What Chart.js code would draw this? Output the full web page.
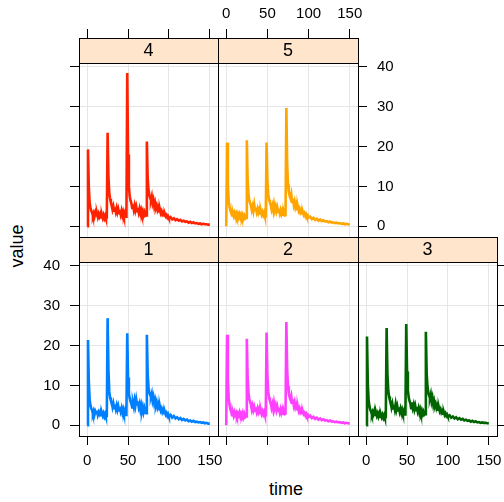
<!DOCTYPE html>
<html>
<head>
<meta charset="utf-8">
<script src="https://cdn.jsdelivr.net/npm/chart.js@4.4.0/dist/chart.umd.min.js"></script>
<style>
  body { margin: 0; background: #fff; }
  #wrap { position: relative; width: 504px; height: 502px; overflow: hidden; font-family: "Liberation Sans", Arial, sans-serif; }
  #wrap canvas { position: absolute; }
  .title { position: absolute; font-size: 18px; color: #000; white-space: nowrap; }
  #xt { left: 286px; top: 489px; transform: translate(-50%, -50%); }
  #yt { left: 17px; top: 246px; transform: translate(-50%, -50%) rotate(-90deg); }
</style>
</head>
<body>
<div id="wrap">
  <div class="title" id="xt">time</div>
  <div class="title" id="yt">value</div>
</div>
<script>
const times = [0,1,2,3,4,5,6,7,8,9,10,11,12,13,14,15,16,17,18,19,20,21,22,23,
  24,25,26,27,28,29,30,31,32,33,34,35,36,37,38,39,40,41,42,43,44,45,46,47,
  48,49,50,51,52,53,54,55,56,57,58,59,60,61,62,63,64,65,66,67,68,69,70,71,
  72,73,74,75,76,77,78,79,80,81,82,83,84,85,86,87,88,89,90,91,92,93,94,95,96,97,98,99,100,
  102,104,106,108,110,112,114,116,118,120,122,124,126,128,130,132,134,136,138,140,142,144,146,148,150];

const values1 = [0,21.4,11,6.5,5,4.2,3.8,2.9,3.6,2.7,3.5,3.0,3.7,2.6,3.3,2.8,3.4,2.5,3.1,2.4,3.0,2.2,2.8,2.1,
  2.3,26.9,14,8.5,7,6.2,5.8,4.6,5.5,4.3,5.2,4.1,5.0,3.9,4.8,3.7,4.6,3.5,4.3,3.2,4.0,3.0,3.7,2.6,
  2.6,23.1,12,8,6.8,6,5.4,4.5,5.6,4.6,6.2,5.0,6.5,5.2,6.0,4.6,5.4,4.0,5.0,3.6,4.6,3.3,4.2,3.1,
  3.0,22.7,13,9.5,8.2,7.6,7.2,8.0,6.2,7.1,5.6,6.4,5.0,5.8,4.5,5.2,4.0,4.7,3.7,4.2,3.3,3.8,3.0,3.4,2.7,3.1,2.4,2.8,2.2,
  2.6,1.9,2.3,1.7,2.0,1.5,1.8,1.3,1.6,1.2,1.4,1.0,1.2,0.9,1.1,0.8,0.9,0.7,0.8,0.6,0.7,0.5,0.6,0.4,0.4];

const values2 = [0,22.7,11.5,6.8,5.2,4.0,3.4,2.5,3.2,2.4,3.3,2.6,3.1,2.3,3.0,2.5,3.2,2.2,2.9,2.4,3.1,2.1,2.8,2.0,
  2.2,21.7,12,8.2,6.6,5.8,5.2,4.0,4.9,3.8,4.6,3.6,4.5,3.4,4.2,3.3,4.0,3.0,3.8,2.9,3.5,2.7,3.3,2.5,
  2.5,23.3,12.5,8.5,7,6.2,5.6,4.4,5.3,4.1,5.6,4.3,5.0,3.8,4.7,3.6,4.4,3.3,4.1,3.1,3.8,2.9,3.5,2.8,
  2.9,25.9,14,9.8,8.0,7.0,6.4,7.3,5.6,6.5,5.0,5.8,4.5,5.1,4.0,4.6,3.6,4.2,3.3,3.8,3.0,3.5,2.8,3.1,2.5,2.9,2.3,2.6,2.1,
  2.4,1.8,2.1,1.6,1.9,1.4,1.7,1.3,1.5,1.2,1.3,1.0,1.2,0.9,1.0,0.8,0.9,0.7,0.8,0.6,0.7,0.5,0.6,0.5,0.4];

const values3 = [0,22.3,10.5,6.2,4.8,3.9,3.5,2.7,3.4,2.8,3.6,2.6,3.2,2.4,3.0,2.2,2.9,2.1,2.7,2.0,2.6,1.9,2.5,1.8,
  2.0,24.4,13,8.8,7.2,6.3,5.7,4.5,5.4,4.2,5.1,4.0,5.3,3.9,4.8,3.7,4.5,3.4,4.2,3.2,3.9,3.0,3.6,2.7,
  2.7,25.4,13.5,8.8,7.0,6.1,5.5,4.3,5.8,4.4,5.2,4.0,4.9,3.8,4.6,3.5,4.3,3.2,4.0,3.0,3.7,2.8,3.4,2.6,
  2.8,23.5,13,9.6,8.3,7.4,6.9,7.8,6.0,6.9,5.3,6.1,4.8,5.4,4.3,4.9,3.9,4.4,3.5,4.0,3.2,3.6,2.9,3.3,2.6,3.0,2.4,2.7,2.2,
  2.5,1.9,2.2,1.7,2.0,1.5,1.8,1.4,1.6,1.2,1.4,1.1,1.2,0.9,1.1,0.8,1.0,0.7,0.8,0.6,0.7,0.6,0.6,0.5,0.5];

const values4 = [0,19.3,9.8,6.0,4.7,3.9,3.5,2.6,3.3,2.5,3.4,2.7,3.2,2.3,3.1,2.4,3.0,2.2,2.9,2.1,2.8,2.0,2.6,1.9,
  2.1,23.5,12.5,8.4,6.9,6.0,5.3,4.2,5.0,3.9,4.8,3.7,4.6,3.5,4.3,3.3,4.1,3.0,3.9,2.8,3.6,2.6,3.3,2.4,
  2.4,38.5,18,10,7.6,6.5,5.8,4.6,5.5,4.2,5.2,4.0,4.9,3.8,4.6,3.5,4.4,3.3,4.1,3.1,3.8,2.8,3.5,2.6,
  2.7,21.3,12,9.2,7.9,7.1,6.6,7.5,5.8,6.6,5.1,5.9,4.6,5.2,4.1,4.7,3.7,4.2,3.3,3.8,3.0,3.4,2.7,3.1,2.5,2.8,2.2,2.5,2.0,
  2.3,1.7,2.0,1.5,1.8,1.4,1.6,1.2,1.4,1.1,1.2,0.9,1.1,0.8,1.0,0.7,0.8,0.6,0.7,0.5,0.6,0.5,0.5,0.4,0.4];

const values5 = [0,21.0,10.5,6.3,4.9,4.0,3.5,2.7,3.4,2.6,3.3,2.5,3.2,2.4,3.1,2.3,3.0,2.2,2.9,2.1,2.8,2.0,2.6,1.9,
  2.1,21.6,11.5,7.9,6.5,5.8,5.2,4.1,5.0,3.9,5.4,4.0,4.7,3.6,4.4,3.4,4.1,3.2,3.9,3.0,3.6,2.8,3.4,2.5,
  2.5,21.0,11.5,8.0,6.7,6.0,5.5,4.3,5.2,4.1,5.5,4.2,5.0,3.8,4.7,3.6,4.4,3.3,4.1,3.1,3.8,2.9,3.5,2.7,
  2.8,29.7,15.5,10.5,8.6,7.6,7.0,8.0,6.1,7.0,5.4,6.2,4.8,5.5,4.3,4.9,3.9,4.4,3.5,4.0,3.2,3.6,2.9,3.3,2.6,3.0,2.4,2.7,2.2,
  2.4,1.8,2.1,1.6,1.9,1.4,1.7,1.3,1.5,1.2,1.3,1.0,1.2,0.9,1.0,0.8,0.9,0.7,0.8,0.6,0.7,0.5,0.6,0.5,0.4];

const panelNames = ['1', '2', '3', '4', '5'];
const xTicks = [0, 50, 100, 150];
const yTicks = [0, 10, 20, 30, 40];

// layout
const FONT = '"Liberation Sans", Arial, sans-serif';
const PAD = 45, AX = 40, STRIP = 25, PLOT_H = 174;
const X_MIN = -10, X_MAX = 160, Y_MIN = -2.7, Y_TOP = 41;
// y range is stretched so the strip sits inside the chart area
const Y_MAX = Y_MIN + (Y_TOP - Y_MIN) * (PLOT_H + STRIP) / PLOT_H;

const panels = [
  { vals: values1, color: '#0080ff', L: 79,  R: 218, T: 237, B: 436, x: 'bottom', xLab: true,  y: 'left',  yLab: true },
  { vals: values2, color: '#ff40ff', L: 218, R: 358, T: 237, B: 436, x: 'bottom', xLab: false, y: null,    yLab: false },
  { vals: values3, color: '#006400', L: 358, R: 497, T: 237, B: 436, x: 'bottom', xLab: true,  y: 'right', yLab: false },
  { vals: values4, color: '#ff2200', L: 79,  R: 218, T: 38,  B: 237, x: 'top',    xLab: false, y: 'left',  yLab: false },
  { vals: values5, color: '#ffa500', L: 218, R: 358, T: 38,  B: 237, x: 'top',    xLab: true,  y: 'right', yLab: true },
];

const stripPlugin = {
  id: 'strip',
  afterDraw(chart, args, opts) {
    const { ctx, chartArea: a } = chart;
    ctx.save();
    ctx.fillStyle = '#ffe5cc';
    ctx.fillRect(a.left, a.top, a.right - a.left, STRIP);
    ctx.strokeStyle = '#000';
    ctx.lineWidth = 1;
    ctx.beginPath();
    ctx.moveTo(a.left, a.top + STRIP + 0.5);
    ctx.lineTo(a.right, a.top + STRIP + 0.5);
    ctx.stroke();
    ctx.strokeRect(a.left + 0.5, a.top + 0.5, a.right - a.left, a.bottom - a.top);
    ctx.fillStyle = '#000';
    ctx.font = '18px ' + FONT;
    ctx.textAlign = 'center';
    ctx.textBaseline = 'middle';
    ctx.fillText(opts.label, (a.left + a.right) / 2, a.top + STRIP / 2 + 1);
    ctx.restore();
  }
};

const wrap = document.getElementById('wrap');

panels.forEach((p, i) => {
  const w = p.R - p.L + 2 * PAD, h = p.B - p.T + 2 * PAD;
  const cv = document.createElement('canvas');
  cv.width = w; cv.height = h;
  cv.style.left = (p.L - PAD) + 'px';
  cv.style.top = (p.T - PAD) + 'px';
  cv.style.width = w + 'px'; cv.style.height = h + 'px';
  wrap.appendChild(cv);

  const pts = times.map((t, k) => ({ x: t, y: p.vals[k] }));

  new Chart(cv, {
    type: 'line',
    data: {
      datasets: [{
        data: pts,
        borderColor: p.color,
        borderWidth: 2.6,
        pointRadius: 0,
        tension: 0,
        fill: false
      }]
    },
    plugins: [stripPlugin],
    options: {
      responsive: false,
      animation: false,
      devicePixelRatio: 1,
      layout: {
        padding: {
          left: PAD - (p.y === 'left' ? AX : 0),
          right: PAD - (p.y === 'right' ? AX : 0),
          top: PAD - (p.x === 'top' ? AX : 0),
          bottom: PAD - (p.x === 'bottom' ? AX : 0)
        }
      },
      plugins: {
        legend: { display: false },
        tooltip: { enabled: false },
        strip: { label: panelNames[i] }
      },
      scales: {
        x: {
          type: 'linear',
          position: p.x,
          min: X_MIN, max: X_MAX,
          afterBuildTicks: s => { s.ticks = xTicks.map(v => ({ value: v })); },
          afterFit: s => { s.height = AX; s.paddingLeft = 0; s.paddingRight = 0; },
          grid: { color: '#e6e6e6', tickColor: '#000', tickLength: 9, drawTicks: true },
          border: { display: true, color: '#000' },
          ticks: {
            autoSkip: false, maxRotation: 0, minRotation: 0,
            padding: p.x === 'bottom' ? 7 : 6,
            color: '#000',
            font: { size: 15, family: FONT },
            callback: v => p.xLab ? String(v) : ''
          }
        },
        y: {
          type: 'linear',
          position: p.y || 'left',
          min: Y_MIN, max: Y_MAX,
          afterBuildTicks: s => { s.ticks = yTicks.map(v => ({ value: v })); },
          afterFit: s => { s.width = p.y ? AX : 0; s.paddingTop = 0; s.paddingBottom = 0; },
          grid: { color: '#e6e6e6', tickColor: '#000', tickLength: 9, drawTicks: !!p.y },
          border: { display: true, color: '#000' },
          ticks: {
            display: !!p.y,
            autoSkip: false,
            padding: 10,
            color: '#000',
            font: { size: 15, family: FONT },
            callback: v => p.yLab ? String(v) : ''
          }
        }
      }
    }
  });
});
</script>
</body>
</html>
